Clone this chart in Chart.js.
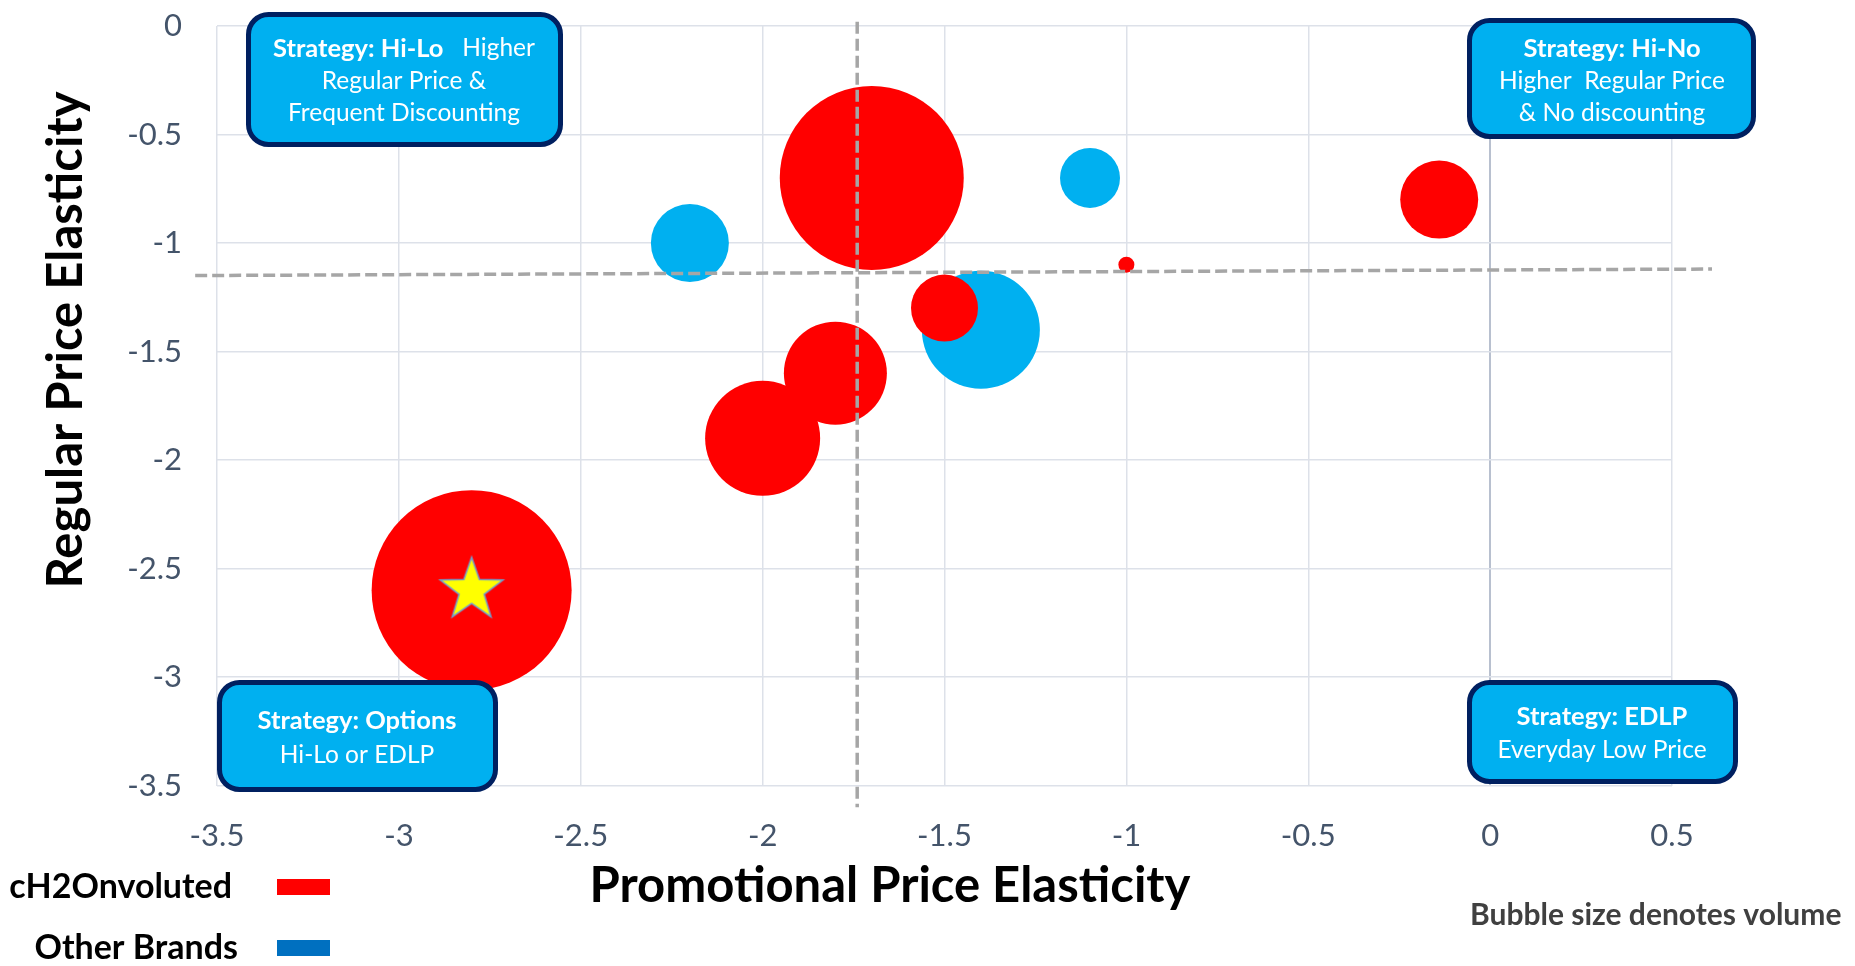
<!DOCTYPE html>
<html>
<head>
<meta charset="utf-8">
<title>Price elasticity map</title>
<script src="https://cdn.jsdelivr.net/npm/chart.js@4.4.1/dist/chart.umd.min.js"></script>
<style>
  html, body { margin: 0; padding: 0; background: #ffffff; }
  #wrap { width: 1855px; height: 966px; }
</style>
</head>
<body>
<div id="wrap"><canvas id="chart" width="1855" height="966"></canvas></div>
<script>
// cH2Onvoluted products: promotional vs regular price elasticity, radius = volume
const brandX      = [-1.7, -0.14, -1.0, -1.5, -1.8, -2.0, -2.8];
const brandY      = [-0.7, -0.8, -1.1, -1.3, -1.6, -1.9, -2.6];
const brandVolume = [92, 39, 8, 33.5, 51.5, 57.5, 100];

// competitor products
const otherX      = [-2.2, -1.1, -1.4];
const otherY      = [-1.0, -0.7, -1.4];
const otherVolume = [39, 30, 59];

// highlighted product
const starX = [-2.8];
const starY = [-2.6];

// quadrant dividers
const vDividerX = [-1.74, -1.74];
const vDividerY = [0.02, -3.6];
const hDividerX = [-3.56, 0.61];
const hDividerY = [-1.15, -1.12];

// axis ticks
const xTicks = [-3.5, -3, -2.5, -2, -1.5, -1, -0.5, 0, 0.5];
const yTicks = [0, -0.5, -1, -1.5, -2, -2.5, -3, -3.5];

const seriesNames = ['cH2Onvoluted', 'Other Brands'];
const legendSwatches = ['#ff0000', '#0070c0'];

const xTitle = 'Promotional Price Elasticity';
const yTitle = 'Regular Price Elasticity';
const footNote = 'Bubble size denotes volume';

// quadrant strategy callouts: each line is a list of [text, bold] runs
const noteTexts = [
  [[['Strategy: Hi-Lo', true], ['   Higher', false]], [['Regular Price &', false]], [['Frequent Discounting', false]]],
  [[['Strategy: Hi-No', true]], [['Higher  Regular Price', false]], [['& No discounting', false]]],
  [[['Strategy: Options', true]], [['Hi-Lo or EDLP', false]]],
  [[['Strategy: EDLP', true]], [['Everyday Low Price', false]]]
];
// box [left, top, right, bottom], text centre x, middle y per line
const noteLayout = [
  { box: [246, 12, 563, 147], cx: 404, ys: [48.5, 81, 113] },
  { box: [1467, 18, 1756, 139], cx: 1612, ys: [48.5, 81, 113] },
  { box: [217, 680, 498, 792], cx: 357, ys: [721, 755] },
  { box: [1467, 680, 1738, 784], cx: 1602, ys: [717, 750] }
];

const FONT = 'Lato, "Open Sans", sans-serif';

function toPoints(xs, ys, rs) {
  return xs.map((x, i) => rs ? { x: x, y: ys[i], r: rs[i] } : { x: x, y: ys[i] });
}

// yellow star marker
function makeStar() {
  const c = document.createElement('canvas');
  c.width = 72; c.height = 72;
  const g = c.getContext('2d');
  const R = 33, r = 13.2, cx = 36, cy = 36;
  g.beginPath();
  for (let i = 0; i < 10; i++) {
    const rad = i % 2 === 0 ? R : r;
    const a = -Math.PI / 2 + i * Math.PI / 5;
    const px = cx + rad * Math.cos(a), py = cy + rad * Math.sin(a);
    if (i === 0) g.moveTo(px, py); else g.lineTo(px, py);
  }
  g.closePath();
  g.fillStyle = '#ffff00';
  g.fill();
  g.lineWidth = 1.5;
  g.strokeStyle = '#6f9fd0';
  g.stroke();
  return c;
}

function roundRect(ctx, x, y, w, h, rad) {
  ctx.beginPath();
  ctx.moveTo(x + rad, y);
  ctx.lineTo(x + w - rad, y);
  ctx.arcTo(x + w, y, x + w, y + rad, rad);
  ctx.lineTo(x + w, y + h - rad);
  ctx.arcTo(x + w, y + h, x + w - rad, y + h, rad);
  ctx.lineTo(x + rad, y + h);
  ctx.arcTo(x, y + h, x, y + h - rad, rad);
  ctx.lineTo(x, y + rad);
  ctx.arcTo(x, y, x + rad, y, rad);
  ctx.closePath();
}

const decorations = {
  id: 'decorations',
  afterDraw(chart) {
    const ctx = chart.ctx;
    ctx.save();

    // strategy callouts
    noteTexts.forEach((lines, i) => {
      const L = noteLayout[i];
      const bw = 5;
      const [l, t, r, b] = L.box;
      roundRect(ctx, l + bw / 2, t + bw / 2, r - l - bw, b - t - bw, 20);
      ctx.fillStyle = '#00b0f0';
      ctx.fill();
      ctx.lineWidth = bw;
      ctx.strokeStyle = '#002060';
      ctx.stroke();

      ctx.fillStyle = '#ffffff';
      ctx.textBaseline = 'middle';
      ctx.textAlign = 'left';
      const fontFor = (bold) => bold ? 'bold 25.5px ' + FONT : '24.5px ' + FONT;
      lines.forEach((runs, j) => {
        let total = 0;
        const widths = runs.map(([txt, bold]) => {
          ctx.font = fontFor(bold);
          const w = ctx.measureText(txt).width;
          total += w;
          return w;
        });
        let x = L.cx - total / 2;
        runs.forEach(([txt, bold], k) => {
          ctx.font = fontFor(bold);
          ctx.fillText(txt, x, L.ys[j]);
          x += widths[k];
        });
      });
    });

    // axis titles
    ctx.fillStyle = '#000000';
    ctx.font = 'bold 49px ' + FONT;
    ctx.textAlign = 'center';
    ctx.textBaseline = 'middle';
    ctx.fillText(xTitle, 890, 886);
    ctx.save();
    ctx.translate(66, 340);
    ctx.rotate(-Math.PI / 2);
    ctx.fillText(yTitle, 0, 0);
    ctx.restore();

    // legend
    const legendY = [887, 948];
    ctx.font = 'bold 34px ' + FONT;
    ctx.textAlign = 'right';
    seriesNames.forEach((name, i) => {
      ctx.fillStyle = '#000000';
      ctx.fillText(name, i === 0 ? 232 : 238, legendY[i]);
      ctx.fillStyle = legendSwatches[i];
      ctx.fillRect(277, legendY[i] - 8, 53, 16);
    });

    // footnote
    ctx.font = 'bold 30px ' + FONT;
    ctx.fillStyle = '#404040';
    ctx.textAlign = 'left';
    ctx.fillText(footNote, 1470, 915);

    ctx.restore();
  }
};

const dividerStyle = {
  type: 'scatter',
  showLine: true,
  borderColor: '#a6a6a6',
  borderWidth: 3.5,
  borderDash: [12, 5],
  pointRadius: 0,
  fill: false,
  clip: false
};

new Chart(document.getElementById('chart'), {
  type: 'bubble',
  data: {
    datasets: [
      {
        type: 'scatter',
        label: 'highlight',
        data: toPoints(starX, starY),
        pointStyle: makeStar(),
        pointRadius: 33,
        clip: false
      },
      Object.assign({ label: 'v-divider', data: toPoints(vDividerX, vDividerY) }, dividerStyle),
      Object.assign({ label: 'h-divider', data: toPoints(hDividerX, hDividerY) }, dividerStyle),
      {
        label: seriesNames[0],
        data: toPoints(brandX, brandY, brandVolume),
        backgroundColor: '#ff0000',
        borderWidth: 0
      },
      {
        label: seriesNames[1],
        data: toPoints(otherX, otherY, otherVolume),
        backgroundColor: '#00b0f0',
        borderWidth: 0
      }
    ]
  },
  options: {
    responsive: false,
    animation: false,
    events: [],
    layout: { autoPadding: false, padding: { left: 0, top: 26, right: 183, bottom: 0 } },
    plugins: {
      legend: { display: false },
      tooltip: { enabled: false }
    },
    scales: {
      x: {
        type: 'linear',
        min: -3.5,
        max: 0.5,
        afterBuildTicks: (s) => { s.ticks = xTicks.map(v => ({ value: v })); },
        afterFit: (s) => {
          s.height = 180.5;
          s.paddingLeft = 0; s.paddingRight = 0; s.paddingTop = 0; s.paddingBottom = 0;
        },
        ticks: {
          autoSkip: false,
          maxRotation: 0,
          padding: 32,
          color: '#44546a',
          font: { family: FONT, size: 31 },
          callback: (v) => String(v)
        },
        grid: {
          drawTicks: false,
          color: (c) => (c.tick && c.tick.value === 0) ? '#b8c0cf' : '#dde1e9',
          lineWidth: (c) => (c.tick && c.tick.value === 0) ? 2 : 1.5
        },
        border: { display: false }
      },
      y: {
        type: 'linear',
        min: -3.5,
        max: 0,
        afterBuildTicks: (s) => { s.ticks = yTicks.map(v => ({ value: v })); },
        afterFit: (s) => {
          s.width = 217;
          s.paddingLeft = 0; s.paddingRight = 0; s.paddingTop = 0; s.paddingBottom = 0;
        },
        ticks: {
          autoSkip: false,
          padding: 35,
          color: '#44546a',
          font: { family: FONT, size: 31 },
          callback: (v) => String(v)
        },
        grid: {
          drawTicks: false,
          color: '#dde1e9',
          lineWidth: 1.5
        },
        border: { display: false }
      }
    }
  },
  plugins: [decorations]
});
</script>
</body>
</html>
